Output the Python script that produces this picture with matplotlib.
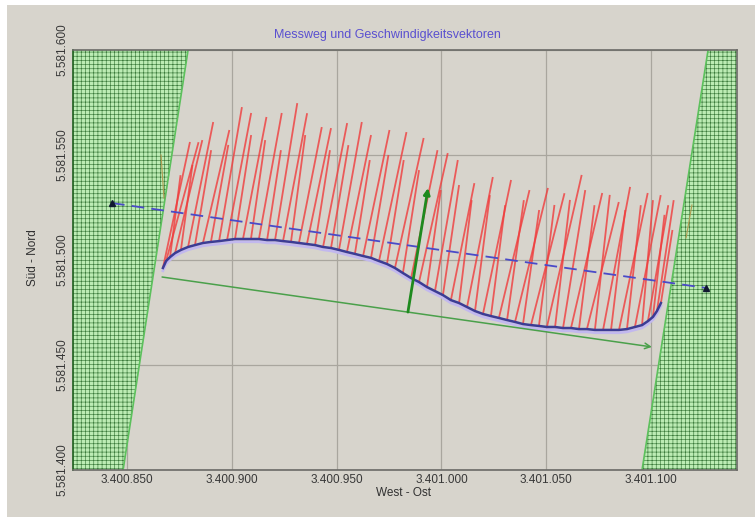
import matplotlib
matplotlib.use('Agg')
import matplotlib.pyplot as plt
import matplotlib.patheffects as pe
from matplotlib.collections import LineCollection
from matplotlib.patches import Polygon, Rectangle
from matplotlib.ticker import FuncFormatter, MultipleLocator
import numpy as np

# coordinate origin (Gauss-Krueger), all values below are offsets in m
E0 = 3400000
N0 = 5581000

# measurement path (boat track)
track_e = [867.1, 868.6, 870.5, 872.9, 875.7, 879.1, 882.4, 886.2, 890.0, 893.9,
           897.7, 901.5, 905.3, 909.1, 912.9, 916.8, 920.6, 924.4, 928.2, 932.0,
           935.8, 939.7, 943.5, 947.3, 951.1, 954.9, 958.7, 962.6, 966.4, 970.2,
           974.0, 977.8, 981.6, 985.5, 989.3, 993.1, 996.9, 1000.7, 1004.5, 1008.4,
           1012.2, 1016.0, 1019.8, 1023.6, 1027.4, 1031.3, 1035.1, 1038.9, 1042.7, 1046.5,
           1050.3, 1054.2, 1058.0, 1061.8, 1065.6, 1069.4, 1073.2, 1077.1, 1080.9, 1084.7,
           1088.5, 1092.3, 1095.7, 1098.5, 1100.9, 1102.8, 1104.7]
track_n = [496.2, 499.5, 501.4, 503.3, 504.8, 506.2, 507.1, 508.1, 508.6, 509.0,
           509.5, 510.0, 510.0, 510.0, 510.0, 509.5, 509.5, 509.0, 508.6, 508.1,
           507.6, 507.1, 506.2, 505.7, 504.8, 503.8, 502.9, 501.9, 501.0, 499.5,
           498.1, 496.2, 493.8, 491.4, 489.5, 487.1, 485.2, 483.3, 480.9, 479.5,
           477.6, 475.7, 474.3, 473.3, 472.4, 471.4, 470.5, 469.5, 469.0, 468.6,
           468.1, 468.1, 467.6, 467.6, 467.1, 467.1, 466.7, 466.7, 466.7, 466.7,
           467.1, 468.1, 469.0, 470.9, 472.9, 475.7, 479.5]

# velocity vectors per ensemble (scaled, m on map)
vel_e = [12.9, 15.5, 5.0, 13.0, 5.5, 12.0, 7.7, 12.6, 8.3, 10.9,
         11.5, 7.7, 11.2, 6.8, 10.9, 6.6, 10.6, 11.5, 6.8, 10.9,
         11.5, 7.1, 11.5, 8.3, 10.9, 11.5, 7.1, 12.6, 8.3, 13.1,
         8.0, 13.7, 7.7, 12.6, 13.7, 6.6, 10.9, 7.7, 11.2, 6.0,
         12.3, 7.1, 13.4, 6.8, 14.6, 8.0, 15.7, 7.7, 16.0, 7.4,
         16.6, 7.1, 10.6, 14.9, 7.4, 15.2, 7.1, 12.9, 6.8, 13.7,
         6.6, 12.3, 5.2, 9.7, 5.5, 8.0, 5.5]
vel_n = [60.0, 56.6, 39.0, 53.8, 40.5, 59.5, 45.2, 53.8, 46.2, 63.8,
         60.5, 49.5, 58.1, 47.1, 60.0, 42.8, 65.2, 60.9, 50.9, 55.2,
         55.2, 45.2, 59.0, 49.0, 60.9, 55.7, 44.7, 60.0, 49.0, 61.4,
         49.5, 61.9, 49.0, 60.9, 61.4, 46.2, 62.4, 52.4, 55.7, 49.0,
         61.9, 55.2, 63.8, 52.8, 60.9, 57.1, 63.8, 54.3, 62.8, 57.6,
         72.4, 60.5, 65.7, 64.3, 59.0, 60.5, 64.3, 68.1, 57.1, 65.2,
         59.0, 62.8, 59.5, 55.2, 48.6, 52.8, 34.8]

# bank areas (hatched)
bank_left_e = [824.2, 879.1, 848.1, 824.2]
bank_left_n = [600.0, 600.0, 400.0, 400.0]
bank_right_e = [1127.2, 1141.0, 1141.0, 1095.7]
bank_right_n = [600.0, 600.0, 400.0, 400.0]

# profile line (dashed) with end points
profile_e = [842.8, 1126.2]
profile_n = [527.1, 486.7]

# projection line (green)
proj_e = [866.7, 1100.4]
proj_n = [491.9, 458.6]

# mean velocity vector
mean_e = [984.0, 993.6]
mean_n = [475.2, 534.3]

# short edge markers
edge_left_e = [866.2, 867.6]
edge_left_n = [550.0, 529.5]
edge_right_e = [1116.7, 1119.5]
edge_right_n = [510.5, 526.2]

xlim = (824.2, 1141.0)
ylim = (400.0, 600.0)

bg = '#d7d4cc'
plt.rcParams['font.family'] = ['Liberation Sans', 'DejaVu Sans']
plt.rcParams['hatch.linewidth'] = 0.45
plt.rcParams['hatch.color'] = '#3a7a3a'

fig = plt.figure(figsize=(7.55, 5.17), dpi=100, facecolor='white')
fig.patches.append(Rectangle((7/755, 0), 1, 1 - 5/517, transform=fig.transFigure,
                             facecolor=bg, edgecolor='none', zorder=-10))
ax = fig.add_axes([73/755, 1 - 470/517, 664/755, 420/517])
ax.set_facecolor(bg)

def to_xy(e, n):
    return np.column_stack([np.asarray(e) + E0, np.asarray(n) + N0])

# banks
for be, bn in [(bank_left_e, bank_left_n), (bank_right_e, bank_right_n)]:
    ax.add_patch(Polygon(to_xy(be, bn), closed=True, facecolor='#bcecb4',
                         edgecolor='#3a7a3a', hatch='++++', lw=0.0, zorder=2))
ax.plot(np.array(bank_left_e[1:3]) + E0, np.array(bank_left_n[1:3]) + N0,
        color='#5cc05c', lw=1.2, zorder=2.5)
ax.plot(np.array([bank_right_e[0], bank_right_e[3]]) + E0,
        np.array([bank_right_n[0], bank_right_n[3]]) + N0,
        color='#5cc05c', lw=1.2, zorder=2.5)

ax.set_xlim(E0 + xlim[0], E0 + xlim[1])
ax.set_ylim(N0 + ylim[0], N0 + ylim[1])
ax.xaxis.set_major_locator(MultipleLocator(50))
ax.yaxis.set_major_locator(MultipleLocator(50))
fmt = FuncFormatter(lambda v, p: f"{v:,.0f}".replace(",", "."))
ax.xaxis.set_major_formatter(fmt)
ax.yaxis.set_major_formatter(fmt)
ax.set_axisbelow('line')
ax.grid(True, color='#a9a69e', lw=0.9)
ax.tick_params(length=0, labelsize=8.5, colors='#383838', pad=3)
for lab in ax.get_yticklabels():
    lab.set_rotation(90)
    lab.set_va('center')
for s in ax.spines.values():
    s.set_color('#6a6a66')
    s.set_linewidth(1.2)
    s.set_zorder(7)
ax.spines['left'].set_color('#1f5f1f')

# velocity vectors
base = to_xy(track_e, track_n)
tips = base + np.column_stack([vel_e, vel_n])
segs = np.stack([base, tips], axis=1)
ax.add_collection(LineCollection(segs, colors='#f03c3c', linewidths=1.3,
                                 alpha=0.8, zorder=3))

# edge markers
ax.plot(np.array(edge_left_e) + E0, np.array(edge_left_n) + N0, color='#b09a50', lw=0.8, zorder=3)
ax.plot(np.array(edge_right_e) + E0, np.array(edge_right_n) + N0, color='#b09a50', lw=0.8, zorder=3)

# profile line
ax.plot(np.array(profile_e) + E0, np.array(profile_n) + N0, color='#4a4ac8',
        lw=1.3, ls=(0, (7, 4)), zorder=4)
ax.plot(np.array(profile_e) + E0, np.array(profile_n) + N0, ls='none', marker='^',
        ms=5, color='#101830', zorder=5)

# track
ax.plot(np.array(track_e) + E0, np.array(track_n) + N0, color='#3c3c94', lw=1.8, zorder=5,
        path_effects=[pe.Stroke(linewidth=2.0, foreground='#c2b8ee', offset=(0, -2)),
                      pe.Normal()])

# projection line
p = to_xy(proj_e, proj_n)
ax.annotate('', xy=p[1], xytext=p[0],
            arrowprops=dict(arrowstyle='->', color='#4aa04a', lw=1.1, shrinkA=0, shrinkB=0),
            zorder=5)

# mean velocity
m = to_xy(mean_e, mean_n)
ax.annotate('', xy=m[1], xytext=m[0],
            arrowprops=dict(arrowstyle='-|>', color='#1e8a1e', lw=2.0, mutation_scale=9,
                            shrinkA=0, shrinkB=0),
            zorder=6)

fig.text(387/755, 1 - 35/517, 'Messweg und Geschwindigkeitsvektoren', color='#5a50d0',
         fontsize=9, ha='center', va='center')
fig.text(403/755, 1 - 493/517, 'West - Ost', color='#303030', fontsize=8.5,
         ha='center', va='center')
fig.text(33/755, 1 - 258/517, 'Süd - Nord', color='#303030', fontsize=8.5,
         ha='center', va='center', rotation=90)

fig.savefig('out.png', dpi=100, facecolor=fig.get_facecolor())
